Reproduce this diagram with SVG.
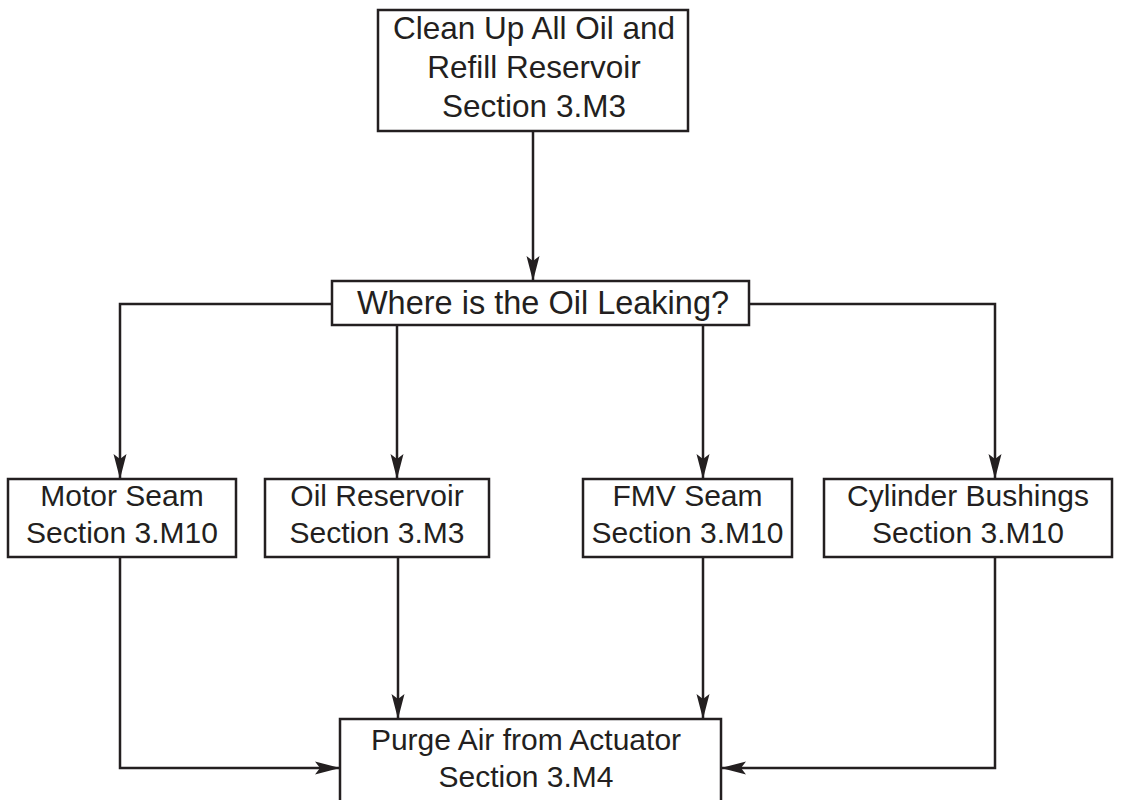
<svg xmlns="http://www.w3.org/2000/svg" width="1126" height="800" viewBox="0 0 1126 800">
  <style>
    .box { fill: #ffffff; stroke: #231f20; stroke-width: 2.5; }
    .lbl { font-family: "Liberation Sans", Arial, sans-serif; font-size: 30px; fill: #231f20; text-anchor: middle; }
    .lbl-lg { font-size: 31.5px; }
    .lbl-xl { font-size: 32.5px; }
    .wire { fill: none; stroke: #231f20; stroke-width: 2.5; }
  </style>
  <defs>
    <marker id="arrow" viewBox="-26 -7 28 14" refX="0" refY="0" markerUnits="userSpaceOnUse" markerWidth="28" markerHeight="14" orient="auto">
      <path d="M0,0 L-25,-6.5 L-20,0 L-25,6.5 Z" fill="#231f20"/>
    </marker>
  </defs>
  <rect width="1126" height="800" fill="#ffffff"/>

  <!-- connectors -->
  <g id="connectors">
    <path class="wire" d="M533,131 V281" marker-end="url(#arrow)"/>
    <path class="wire" d="M332,304 H120 V479" marker-end="url(#arrow)"/>
    <path class="wire" d="M397,325 V479" marker-end="url(#arrow)"/>
    <path class="wire" d="M703,325 V479" marker-end="url(#arrow)"/>
    <path class="wire" d="M749,304 H995 V479" marker-end="url(#arrow)"/>
    <path class="wire" d="M120,557 V768 H340" marker-end="url(#arrow)"/>
    <path class="wire" d="M398,557 V719" marker-end="url(#arrow)"/>
    <path class="wire" d="M703,557 V719" marker-end="url(#arrow)"/>
    <path class="wire" d="M995,557 V768 H721" marker-end="url(#arrow)"/>
  </g>

  <!-- nodes -->
  <g id="clean-up">
    <rect class="box" x="378" y="10" width="310" height="121"/>
    <text class="lbl lbl-lg" x="534" y="39">Clean Up All Oil and</text>
    <text class="lbl lbl-lg" x="534" y="78">Refill Reservoir</text>
    <text class="lbl lbl-lg" x="534" y="117">Section 3.M3</text>
  </g>

  <g id="where-leaking">
    <rect class="box" x="332" y="281" width="417" height="44"/>
    <text class="lbl lbl-xl" x="543" y="314">Where is the Oil Leaking?</text>
  </g>

  <g id="motor-seam">
    <rect class="box" x="8" y="479" width="228" height="78"/>
    <text class="lbl" x="122" y="506">Motor Seam</text>
    <text class="lbl" x="122" y="543">Section 3.M10</text>
  </g>

  <g id="oil-reservoir">
    <rect class="box" x="265" y="479" width="224" height="78"/>
    <text class="lbl" x="377" y="506">Oil Reservoir</text>
    <text class="lbl" x="377" y="543">Section 3.M3</text>
  </g>

  <g id="fmv-seam">
    <rect class="box" x="583" y="479" width="209" height="78"/>
    <text class="lbl" x="687.5" y="506">FMV Seam</text>
    <text class="lbl" x="687.5" y="543">Section 3.M10</text>
  </g>

  <g id="cylinder-bushings">
    <rect class="box" x="824" y="479" width="288" height="78"/>
    <text class="lbl" x="968" y="506">Cylinder Bushings</text>
    <text class="lbl" x="968" y="543">Section 3.M10</text>
  </g>

  <g id="purge-air">
    <rect class="box" x="340" y="719" width="381" height="100"/>
    <text class="lbl" x="526" y="750">Purge Air from Actuator</text>
    <text class="lbl" x="526" y="787">Section 3.M4</text>
  </g>
</svg>
